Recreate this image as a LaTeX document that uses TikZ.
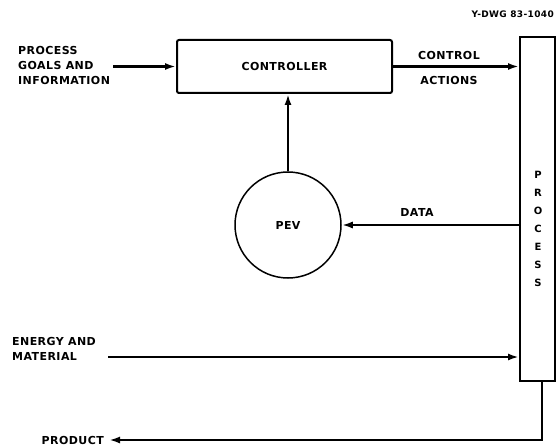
\documentclass[tikz,border=0pt]{standalone}
\usepackage{fontspec}
\newfontfamily\lab{DejaVu Sans}[LetterSpace=4]
\usetikzlibrary{arrows.meta}
\begin{document}
\begin{tikzpicture}[x=1pt,y=-1pt,
  lbl/.style={font=\lab\bfseries\fontsize{11}{15}\selectfont, inner sep=0pt},
  small/.style={font=\lab\bfseries\fontsize{9}{11}\selectfont, inner sep=0pt},
  box/.style={draw, line width=2pt, inner sep=0pt},
  conn/.style={line width=2.2pt, -{Latex[length=11pt,width=7pt]}}]
\useasboundingbox (0,0) rectangle (556,446);
% blocks
\node[box, rounded corners=2pt, minimum width=215pt, minimum height=53pt, lbl] (ctrl) at (284.5,66.5) {CONTROLLER};
\node[box, minimum width=35pt, minimum height=344pt] (proc) at (537.5,209) {};
\node[draw, circle, line width=1.5pt, minimum size=106pt, inner sep=0pt, lbl] (pev) at (288,225) {PEV};
% texts
\node[lbl, align=left, anchor=west] (goals) at (18,65) {PROCESS\\GOALS AND\\INFORMATION};
\node[lbl] (ctl) at (449,55) {CONTROL};
\node[lbl] (act) at (449,80) {ACTIONS};
\node[lbl] (data) at (417,212) {DATA};
\node[lbl, align=left, anchor=west] (energy) at (12,349) {ENERGY AND\\MATERIAL};
\node[lbl, anchor=east] (prod) at (104,440) {PRODUCT};
\node[small, anchor=east] (dwg) at (554,14) {Y-DWG 83-1040};
\node[lbl, align=center, font=\lab\bfseries\fontsize{10}{18}\selectfont] (pl) at (538,229) {P\\R\\O\\C\\E\\S\\S};
% connectors
\coordinate (gstart) at (113,66.5);
\coordinate (estart) at (108,357);
\coordinate (pend) at (109,440);
\draw[conn] (gstart) -- (ctrl.west);
\draw[conn] (ctrl.east) -- (ctrl.east -| proc.west);
\draw[conn] (pev.north) -- (pev.north |- ctrl.south);
\draw[conn] (proc.west |- pev.east) -- (pev.east);
\draw[conn] (estart) -- (estart -| proc.west);
\draw[conn] ([xshift=4.5pt]proc.south) |- (pend);
\end{tikzpicture}
\end{document}
